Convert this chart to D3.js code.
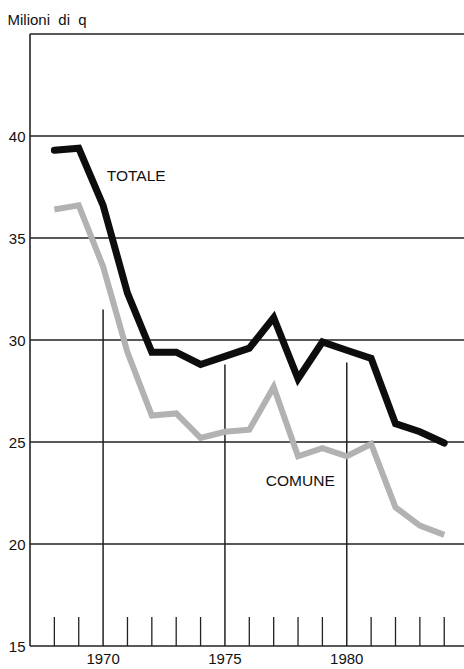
<!DOCTYPE html>
<html>
<head>
<meta charset="utf-8">
<script src="https://cdn.jsdelivr.net/npm/d3@7"></script>
<style>
  html, body { margin: 0; padding: 0; background: #fff; }
  svg { display: block; }
  text { font-family: "Liberation Sans", Arial, Helvetica, sans-serif; fill: #111; }
</style>
</head>
<body>
<svg id="chart" width="464" height="669"></svg>
<script>
// ---- data ----
const years = [1968, 1969, 1970, 1971, 1972, 1973, 1974, 1975, 1976, 1977, 1978, 1979, 1980, 1981, 1982, 1983, 1984];
const totale = [39.3, 39.4, 36.6, 32.3, 29.4, 29.4, 28.8, 29.2, 29.6, 31.1, 28.1, 29.9, 29.5, 29.1, 25.9, 25.5, 24.95];
const comune = [36.4, 36.6, 33.6, 29.4, 26.3, 26.4, 25.2, 25.5, 25.6, 27.7, 24.3, 24.7, 24.3, 24.9, 21.8, 20.9, 20.45];
const yTicks = [15, 20, 25, 30, 35, 40, 45];
const yTickLabels = ["15", "20", "25", "30", "35", "40", ""];
const majorYears = [1970, 1975, 1980];
const majorLineTop = [31.5, 28.8, 28.9];
const minorYears = [1968, 1969, 1971, 1972, 1973, 1974, 1976, 1977, 1978, 1979, 1981, 1982, 1983, 1984];
const unitLabel = "Milioni  di  q";
const seriesLabels = [
  { name: "TOTALE", year: 1970.15, value: 37.8 },
  { name: "COMUNE", year: 1976.68, value: 22.85 }
];

// ---- chart ----
const svg = d3.select("#chart");
const x = d3.scaleLinear().domain([1967, 1985]).range([30, 468.6]);
const y = d3.scaleLinear().domain([15, 45]).range([646, 34]);

const g = svg.append("g");

// horizontal gridlines
g.selectAll("line.grid").data(yTicks).join("line")
  .attr("class", "grid")
  .attr("x1", x(1967)).attr("x2", 464)
  .attr("y1", d => y(d)).attr("y2", d => y(d))
  .attr("stroke", "#222").attr("stroke-width", 1.3);

// left axis line
g.append("line")
  .attr("x1", x(1967)).attr("x2", x(1967))
  .attr("y1", y(45)).attr("y2", y(15))
  .attr("stroke", "#222").attr("stroke-width", 1.6);

// y tick labels
g.selectAll("text.ylab").data(yTicks).join("text")
  .attr("class", "ylab")
  .attr("x", 25.5).attr("y", d => y(d) + 5.5)
  .attr("text-anchor", "end")
  .attr("font-size", 15)
  .text((d, i) => yTickLabels[i]);

// minor ticks on x axis
g.selectAll("line.minor").data(minorYears).join("line")
  .attr("class", "minor")
  .attr("x1", d => x(d)).attr("x2", d => x(d))
  .attr("y1", y(15)).attr("y2", y(15) - 29)
  .attr("stroke", "#222").attr("stroke-width", 1.3);

// major vertical lines
g.selectAll("line.major").data(majorYears).join("line")
  .attr("class", "major")
  .attr("x1", d => x(d)).attr("x2", d => x(d))
  .attr("y1", y(15)).attr("y2", (d, i) => y(majorLineTop[i]))
  .attr("stroke", "#222").attr("stroke-width", 1.5);

// x labels
g.selectAll("text.xlab").data(majorYears).join("text")
  .attr("class", "xlab")
  .attr("x", d => x(d)).attr("y", 664)
  .attr("text-anchor", "middle")
  .attr("font-size", 15)
  .text(d => d);

// unit label
g.append("text")
  .attr("x", 7.5).attr("y", 24.5)
  .attr("font-size", 15)
  .attr("xml:space", "preserve")
  .style("white-space", "pre")
  .text(unitLabel);

const line = d3.line().x((d, i) => x(years[i])).y(d => y(d));

// comune (grey)
g.append("path")
  .datum(comune)
  .attr("d", line)
  .attr("fill", "none")
  .attr("stroke", "#b2b2b2")
  .attr("stroke-width", 6)
  .attr("stroke-linejoin", "miter")
  .attr("stroke-linecap", "butt");

// totale (black)
g.append("path")
  .datum(totale)
  .attr("d", line)
  .attr("fill", "none")
  .attr("stroke", "#0d0d0d")
  .attr("stroke-width", 7)
  .attr("stroke-linejoin", "miter")
  .attr("stroke-linecap", "round");

// series labels
g.selectAll("text.slab").data(seriesLabels).join("text")
  .attr("class", "slab")
  .attr("x", d => x(d.year)).attr("y", d => y(d.value))
  .attr("font-size", 15.5)
  .text(d => d.name);
</script>
</body>
</html>
